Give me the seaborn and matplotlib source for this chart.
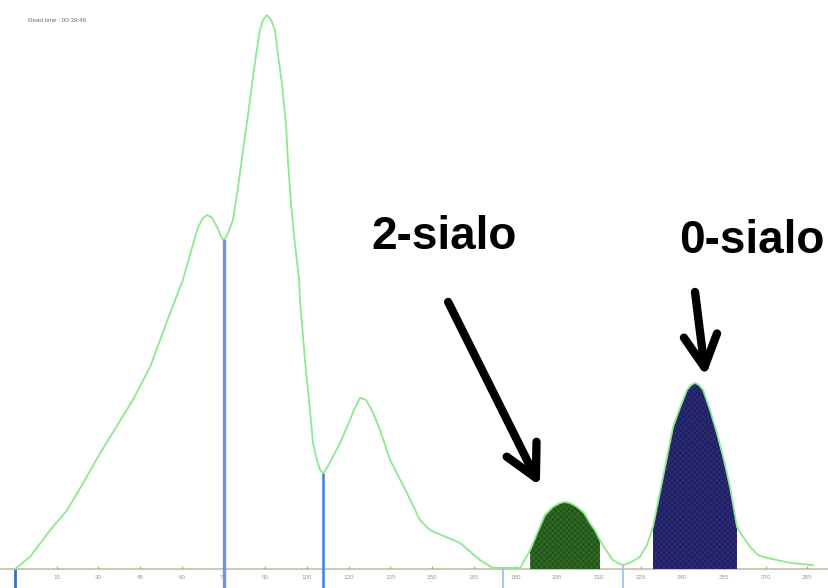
import numpy as np
import matplotlib
matplotlib.use('Agg')
import matplotlib.pyplot as plt
import seaborn as sns

# chromatogram trace (time vs. signal, main peak = 100)
time = [0, 5.4, 12.6, 18.7, 24.5, 30.6, 42.4, 48.6, 55.8, 60.4, 65.5, 67.3,
        69.1, 70.9, 72.7, 74.1, 74.8, 75.9, 77.3, 78.4, 80.2, 82.0, 83.8,
        85.3, 86.7, 88.1, 89.2, 90.6, 92.1, 93.5, 94.6, 96.0, 97.5, 98.2,
        99.3, 100.7, 102.2, 102.5, 104.3, 106.1, 107.2, 108.6, 109.7, 110.8,
        112.2, 114.7, 116.9, 120.5, 122.3, 124.1, 126.3, 128.8, 131.3, 134.9,
        141.0, 145.7, 149.3, 160.1, 167.3, 171.9, 181.7, 185.3, 188.8, 190.6,
        193.5, 196.0, 197.8, 199.6, 202.2, 204.7, 206.8, 208.6, 210.4, 212.6,
        215.1, 216.9, 218.7, 221.2, 224.8, 227.3, 229.5, 231.3, 233.1, 234.9,
        236.7, 239.2, 241.7, 243.2, 244.6, 246.0, 247.5, 250.0, 252.5, 255.0,
        257.2, 259.7, 261.5, 264.4, 267.3, 270.5, 278.8, 287.1]
signal = [0, 2.2, 7.0, 10.6, 15.5, 20.9, 30.5, 36.5, 46.2, 52.2, 61.2, 63.2,
          63.9, 63.4, 61.7, 60.0, 59.4, 59.9, 61.5, 63.0, 68.8, 75.6, 81.9,
          87.7, 92.8, 97.3, 99.1, 100.0, 99.1, 97.3, 92.8, 87.7, 80.1, 73.5,
          65.8, 58.6, 52.2, 48.6, 37.7, 28.7, 22.7, 19.7, 17.9, 17.3,
          18.2, 20.6, 22.7, 26.9, 29.1, 30.9, 30.5, 28.2, 25.1, 19.7,
          13.7, 8.8, 7.0, 4.7, 1.6, 0.2, 0.2, 3.4, 7.6, 9.7,
          11.2, 11.9, 12.1, 11.9, 11.2, 10.1, 8.3, 7.0, 5.2, 3.4,
          1.6, 1.1, 0.7, 1.1, 2.2, 4.3, 7.6, 12.1, 16.6, 21.1,
          25.6, 29.1, 32.3, 33.2, 33.6, 33.2, 32.3, 28.7, 24.5, 19.7,
          14.8, 7.6, 6.1, 4.0, 2.5, 2.0, 1.1, 0.7]

# integration cut marks
cut_times = [0, 75.0, 110.8, 175.5, 218.7]
cut_colors = ['#3b6fc4', '#6f93e0', '#3f7fe0', '#a9c4ee', '#a9c4ee']
cut_widths = [2.0, 2.4, 1.8, 1.5, 1.5]

# shaded peaks
peak_ranges = [(185.3, 210.4), (229.5, 259.7)]
peak_colors = ['#2f6a22', '#2b2b78']
hatch_colors = ['#1f4a18', '#1c1c55']
peak_labels = ['2-sialo', '0-sialo']
label_pos = [(154.3, 60.0), (265.1, 59.2)]
arrow_tail = [(155.8, 48.2), (244.6, 50.0)]
arrow_tip = [(188.8, 15.0), (248.4, 34.8)]

tick_values = [15, 30, 45, 60, 75, 90, 105, 120, 135, 150, 165, 180, 195,
               210, 225, 240, 255, 270, 285]

sns.set_style('white')
plt.rcParams['font.family'] = ['Liberation Sans', 'DejaVu Sans']
plt.rcParams['hatch.linewidth'] = 0.5

fig = plt.figure(figsize=(8.29, 5.88), dpi=100)
ax = fig.add_axes([0, 0, 1, 1])

t = np.array(time)
s = np.array(signal)

# shaded peaks under the curve
for (lo, hi), col, hcol in zip(peak_ranges, peak_colors, hatch_colors):
    mask = (t >= lo) & (t <= hi)
    ax.fill_between(t[mask], 0, s[mask], facecolor=col, edgecolor=hcol,
                    hatch='xxxxxx', linewidth=0.0, zorder=2)

# baseline axis with small ticks
ax.axhline(0, color='#c9bca8', lw=1.2, zorder=1)
ax.vlines(tick_values, 0, 0.5, color='#b0a490', lw=0.8, zorder=1)
for v in tick_values:
    ax.text(v, -1.6, str(v), ha='center', va='center', fontsize=4.5,
            color='#9a9a9a')

# cut lines
cut_tops = np.interp(cut_times, t, s)
for ct, top, col, w in zip(cut_times, cut_tops, cut_colors, cut_widths):
    ax.vlines(ct, -3.5, top, color=col, lw=w, zorder=3)

sns.lineplot(x=time, y=signal, sort=False, color='#8fe88f', lw=1.3, ax=ax,
             zorder=4, solid_joinstyle='round')

# labels and arrows
for lab, pos, tail, tip in zip(peak_labels, label_pos, arrow_tail, arrow_tip):
    ax.text(pos[0], pos[1], lab, ha='center', va='center', fontsize=33,
            fontweight='bold', color='black', zorder=5)
    ax.annotate('', xy=tip, xytext=tail,
                arrowprops=dict(arrowstyle='->,head_length=2.3,head_width=1.2',
                                lw=6, color='black', shrinkA=0, shrinkB=0,
                                mutation_scale=10),
                zorder=5)

fig.text(28 / 829, 1 - 21 / 588, 'Read time : 00:39:46', fontsize=4.5,
         color='#707070', va='center', ha='left')

ax.set_xlim(-5.4, 292.8)
ax.set_ylim(-3.43, 102.7)
ax.set_axis_off()

fig.savefig('out.png', dpi=100)
